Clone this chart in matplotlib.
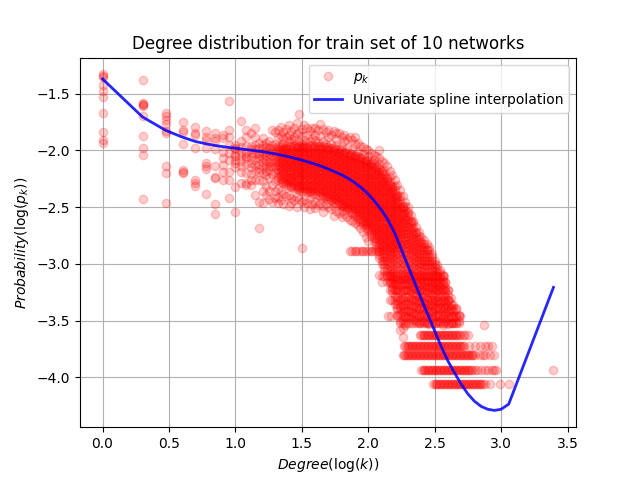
import numpy as np
import matplotlib
matplotlib.use("Agg")
import matplotlib.pyplot as plt

# ---- data ----
# low degrees: x = log10(k); values are -log10(p_k) * 100
low_degrees = [1, 2, 3, 4, 5, 6, 7, 8, 9, 10, 11, 12, 13, 14, 15, 16, 17, 18, 19, 20]
low_logp = [
    "133 134 135 142 148 153 167 184 191 193",
    "138 158 159 160 161 170 187 198 204 243",
    "167 170 173 177 183 185 214 220 246",
    "175 182 184 194 217 219 220",
    "179 185 186 198 226 229 231",
    "183 188 191 198 211 214 216 238",
    "185 189 192 199 214 223 224 247 256",
    "186 189 201 207 213 219 226",
    "156 182 188 195 202 208 219 226 242",
    "195 198 199 203 205 208 211 215 232 254",
    "174 192 197 201 205 209 214 219 229",
    "182 188 196 202 205 207 212 220 229 230",
    "185 196 199 202 206 211 215 221 226 230",
    "180 188 195 199 203 208 213 218 226 239",
    "193 198 202 204 207 212 216 219 226 245 268",
    "189 195 198 202 206 210 214 220 227 236 246",
    "193 197 201 205 209 214 218 222 231 239",
    "192 198 202 206 210 214 217 224 236 243",
    "182 195 199 201 205 210 214 221 230 245",
    "184 194 198 202 206 210 214 219 227 236 242",
]

# dense band: x positions and -log10(p_k) * 100 values at each
band_x = [1.32, 1.34, 1.36, 1.38, 1.40, 1.42, 1.44, 1.46, 1.48, 1.50,
          1.52, 1.54, 1.56, 1.58, 1.60, 1.62, 1.64, 1.66, 1.68, 1.70,
          1.72, 1.74, 1.76, 1.78, 1.80, 1.82, 1.84, 1.86, 1.88, 1.90,
          1.92, 1.94, 1.96, 1.98, 2.00, 2.02, 2.04, 2.06, 2.08, 2.10,
          2.12, 2.14, 2.16, 2.18, 2.20, 2.22, 2.24, 2.26, 2.28, 2.30,
          2.32, 2.34, 2.36, 2.38, 2.40, 2.42, 2.44, 2.46, 2.48, 2.50,
          2.52, 2.54, 2.56, 2.58, 2.60, 2.62, 2.64, 2.66, 2.68]
band_logp = [
    "182 188 196 199 201 204 206 209 212 214 217 220 223 226 234 241 246",
    "179 187 195 197 200 203 206 208 211 214 216 219 222 225 228 236 244",
    "184 189 194 198 200 203 205 208 211 213 216 219 221 224 227 229 238 247",
    "181 188 196 198 199 202 205 207 210 213 215 218 221 223 226 229 230 240",
    "178 186 192 196 199 201 204 207 209 212 215 217 220 223 225 228 231 239 249",
    "183 190 196 199 202 204 207 210 212 215 218 220 223 226 228 231 232 242 246",
    "180 188 191 196 198 201 204 206 209 212 214 217 220 222 225 228 230 233 244",
    "176 185 195 197 198 201 203 206 209 211 214 217 219 222 225 227 230 232 234 241 250",
    "168 184 192 196 199 201 204 207 209 212 215 217 220 223 225 228 231 233 235 243",
    "181 187 194 196 198 201 203 206 209 211 214 217 219 222 225 227 230 233 236 245 286",
    "178 191 196 198 201 204 206 209 212 214 217 220 222 225 228 230 233 236 244 250",
    "180 186 194 197 198 201 203 206 209 211 214 217 219 222 225 227 230 233 235 237 246",
    "183 192 196 199 201 204 207 209 212 215 217 220 223 225 228 231 233 236 237 243 252",
    "180 189 195 198 201 203 206 209 211 214 217 219 222 225 227 230 233 235 238 247",
    "180 186 191 196 198 201 204 206 209 212 214 217 220 222 225 228 230 233 236 238 245 251",
    "182 193 196 199 202 204 207 210 212 215 218 220 223 226 228 231 234 236 239 248",
    "177 187 196 198 199 202 205 207 210 213 215 218 221 223 226 229 231 234 237 240 246",
    "181 192 196 199 202 204 207 210 212 215 218 220 223 226 228 231 234 236 239 241 249 254",
    "184 194 197 200 203 205 208 211 213 216 219 221 224 227 229 232 235 237 240 242 247",
    "182 188 197 199 200 203 206 208 211 214 216 219 222 224 227 230 232 235 238 240 243 250",
    "186 194 198 201 204 206 209 212 214 217 220 222 225 228 230 233 236 238 241 244 252",
    "183 198 200 201 204 207 209 212 215 217 220 223 225 228 231 233 236 239 241 243 245 249 258",
    "185 190 195 199 202 205 207 210 213 215 218 221 223 226 229 231 234 237 239 242 244 246 253",
    "185 199 201 202 205 208 210 213 216 218 221 224 226 229 232 234 237 240 242 245 247 255",
    "188 196 200 203 206 208 211 214 216 219 222 224 227 230 232 235 238 240 243 246 248 249 253 259",
    "186 192 201 202 204 207 209 212 215 217 220 223 225 228 231 233 236 239 241 244 247 249 250 256",
    "190 198 202 205 208 210 213 216 218 221 224 226 229 232 234 237 240 242 245 248 250 252 259",
    "188 202 204 205 208 211 213 216 219 221 224 227 229 232 235 237 240 243 245 248 251 254 261",
    "191 199 203 206 209 211 214 217 219 222 225 227 230 233 235 238 241 243 246 249 251 254 256 262",
    "188 194 204 205 207 210 212 215 218 220 223 226 228 231 234 236 239 242 244 247 250 252 255 258 264",
    "193 201 205 208 211 213 216 219 221 224 227 229 232 235 237 240 243 245 248 251 253 256 258 260 266",
    "196 206 207 209 212 214 217 220 222 225 228 230 233 236 238 241 244 246 249 252 254 257 260 263 268",
    "197 203 207 210 213 215 218 221 223 226 229 231 234 237 239 242 245 247 250 253 255 258 261 263 265 272",
    "199 208 209 211 214 216 219 222 224 227 230 232 235 238 240 243 246 248 251 254 256 259 262 264 266 268 276",
    "200 205 209 212 215 217 220 223 225 228 231 233 236 239 241 244 247 249 252 255 257 260 263 265 268 271 280",
    "202 211 212 214 217 219 222 225 227 230 233 235 238 241 243 246 249 251 254 257 259 262 265 267 270 273 275",
    "204 208 212 215 218 221 223 226 229 231 234 237 239 242 245 247 250 253 255 258 261 263 266 269 271 274 277 280",
    "205 214 215 217 220 222 225 228 230 233 236 238 241 244 246 249 252 254 257 260 262 265 268 270 273 276 278 281 284 287",
    "200 207 212 216 219 222 224 227 230 232 235 238 240 243 246 248 251 254 256 259 262 264 267 270 272 275 278 280 283 286 289 292 295 310",
    "209 218 219 221 224 227 229 232 235 237 240 243 245 248 251 253 256 259 261 264 267 269 272 275 277 280 283 285 288 291 294 297 300 316",
    "211 217 221 224 227 229 232 235 237 240 243 245 248 251 253 256 259 261 264 267 269 272 275 277 280 283 285 288 291 294 297 300 303 306",
    "214 224 225 227 230 232 235 238 240 243 246 248 251 254 256 259 262 264 267 270 272 275 278 280 283 286 288 291 294 297 300 304 307 310",
    "218 223 228 230 233 236 238 241 244 246 249 252 254 257 260 262 265 268 270 273 276 278 281 284 286 289 292 295 298 302 306 310 314 317",
    "222 231 232 234 237 239 242 245 247 250 253 255 258 261 263 266 269 271 274 277 279 282 285 287 290 293 296 300 304 308 312 317 321 325",
    "226 231 235 238 241 243 246 249 251 254 257 259 262 265 267 270 273 275 278 281 283 286 289 292 296 300 304 308 313 318 323 328 335",
    "230 239 240 242 245 247 250 253 255 258 261 263 266 269 271 274 277 279 282 285 288 291 295 299 303 308 313 318 323 329 335 340 345",
    "235 240 244 247 250 252 255 258 260 263 266 268 271 274 276 279 282 285 288 292 296 300 304 309 314 319 325 331 337 343 350 358",
    "240 249 250 252 255 257 260 263 265 268 271 274 277 280 283 287 291 295 299 303 308 313 318 324 330 336 342 349 356 364",
    "245 249 253 256 259 261 264 267 270 273 276 279 282 285 288 292 296 300 304 308 313 318 323 329 335 341 347 354",
    "250 254 255 258 261 264 267 270 273 276 279 282 285 288 292 296 300 304 308 313 318 323 329 335 341 347",
    "257 262 263 266 269 272 275 278 281 284 287 290 293 297 301 305 309 314 319 324 330 336 342 348",
    "262 264 268 271 274 277 280 283 286 289 292 295 299 303 307 311 316 321 326 331 337 343 349",
    "267 272 273 276 279 282 285 288 291 294 297 300 304 308 312 317 322 327 332 338 344 350",
    "272 275 278 281 284 287 290 293 296 299 302 306 310 314 319 324 329 334 340 346 352",
    "276 281 282 285 288 291 294 297 300 303 306 310 314 318 323 328 333 338 344 350",
    "279 282 285 288 291 294 297 300 303 307 311 315 319 324 329 334 339 345 351",
    "282 287 288 291 294 297 300 303 307 311 315 320 325 330 335 340 346 352",
    "285 288 291 294 297 300 303 307 311 315 320 325 330 336 341 347 353",
    "291 294 297 300 303 306 310 314 318 322 327 332 337 342 348",
    "297 300 303 306 310 313 317 321 325 330 335 340 346 352",
    "301 304 307 311 315 319 323 328 333 338 344 350",
    "305 308 312 316 320 324 329 334 339 345 351",
    "310 314 318 322 327 332 337 342 348 354",
    "316 320 324 329 334 339 344 350",
    "323 327 332 337 342 348 353",
    "330 335 340 346 352",
    "336 341 347 352",
    "340 346 352",
    "345 350",
]

# quantized rows: -log10(p_k) * 100 and x * 100 of the points on each row
row_logp = [289, 311, 316, 323, 332, 339, 346, 352, 363, 372, 380, 393, 406]
row_x = [
    "186 188 190 191 193 195 196 198 200 202 203 205 207",
    "210 212 214 216 218 220 222 224 226 228 230 232 234 236 238 240 242 244 246 248 250 252 254 256 257",
    "214 216 218 220 222 224 226 228 230 232 234 236 238 240 242 244 246 248 250 252 254 256 258",
    "216 218 220 222 224 226 228 230 232 234 236 238 240 242 244 246 248 250 252 254 256 258 260",
    "216 218 220 222 224 226 228 230 232 234 236 238 240 242 244 246 248 250 252 254 256 258 260 261",
    "222 224 226 228 230 232 234 236 238 240 242 244 246 248 250 252 254 256 258 260 262 264 266",
    "215 217 222 224 226 228 230 232 234 236 238 240 242 244 246 248 250 252 254 256 258 260 262 264 266 268 269",
    "224 226 228 230 232 234 236 238 240 242 244 246 248 250 252 254 256 258 260 262 264 266 268",
    "239 240 241 242 243 244 245 246 247 248 249 250 251 252 253 254 255 256 257 258 259 260 261 262 263 264 265 266 267 268 269 271 273 275",
    "227 228 229 230 231 232 233 234 235 236 237 238 239 240 241 242 243 244 245 246 247 248 249 250 251 252 253 254 255 256 257 258 259 260 261 262 263 264 265 266 267 268 269 270 271 272 276 280 284 288 290 293",
    "226 227 228 229 230 231 232 233 234 235 236 237 238 239 240 241 242 243 244 245 246 247 248 249 250 251 252 253 254 255 256 257 258 259 260 261 262 263 264 265 266 267 268 269 270 271 272 273 274 275 276 277 278 279 280 284 286 288 292 295",
    "240 241 242 243 244 245 246 247 248 249 250 251 252 253 254 255 256 257 258 259 260 261 262 263 264 265 266 267 268 269 270 271 272 273 274 275 276 277 278 280 282 285 288 290 293 295 296 339",
    "249 250 251 252 253 254 255 256 257 258 259 260 261 262 263 264 265 266 267 268 269 270 271 272 273 274 275 276 277 278 279 280 281 282 283 284 285 286 288 292 299 306",
]

outlier_x = [2.87]
outlier_y = [-3.54]

# spline curve
spline_x = [0.0, 0.301, 0.477, 0.602, 0.699, 0.778, 0.845, 0.903, 0.954, 1.0,
            1.1, 1.2, 1.3, 1.4, 1.5, 1.6, 1.7, 1.8, 1.85, 1.9, 1.95, 2.0,
            2.05, 2.1, 2.15, 2.2, 2.25, 2.3, 2.35, 2.4, 2.45, 2.5,
            2.55, 2.6, 2.65, 2.7, 2.75, 2.8, 2.85, 2.9, 2.95, 3.0,
            3.057, 3.394]
spline_y = [-1.37, -1.705, -1.824, -1.883, -1.921, -1.941, -1.956, -1.966, -1.974, -1.98,
            -1.995, -2.01, -2.03, -2.055, -2.085, -2.12, -2.163, -2.215, -2.247, -2.285, -2.33, -2.385,
            -2.45, -2.525, -2.615, -2.73, -2.875, -3.02, -3.165, -3.31, -3.45, -3.59,
            -3.73, -3.855, -3.96, -4.06, -4.145, -4.21, -4.255, -4.28, -4.29, -4.28,
            -4.235, -3.206]

# ---- assemble points ----
xs, ys = [], []
for k, s in zip(low_degrees, low_logp):
    for v in s.split():
        xs.append(np.log10(k))
        ys.append(-int(v) / 100.0)
for x, s in zip(band_x, band_logp):
    for v in s.split():
        xs.append(x)
        ys.append(-int(v) / 100.0)
for y, s in zip(row_logp, row_x):
    for v in s.split():
        xs.append(int(v) / 100.0)
        ys.append(-y / 100.0)
xs += outlier_x
ys += outlier_y

fig, ax = plt.subplots(figsize=(6.4, 4.8), dpi=100)
ax.plot(xs, ys, 'o', color='red', alpha=0.2, label='$p_k$')
ax.plot(spline_x, spline_y, color='blue', alpha=0.85, linewidth=2,
        label='Univariate spline interpolation')
ax.set_title('Degree distribution for train set of 10 networks')
ax.set_xlabel('$Degree(\\log(k))$')
ax.set_ylabel('$Probability(\\log(p_k))$')
ax.grid(True)
ax.legend(loc='upper right')
fig.savefig('out.png')
